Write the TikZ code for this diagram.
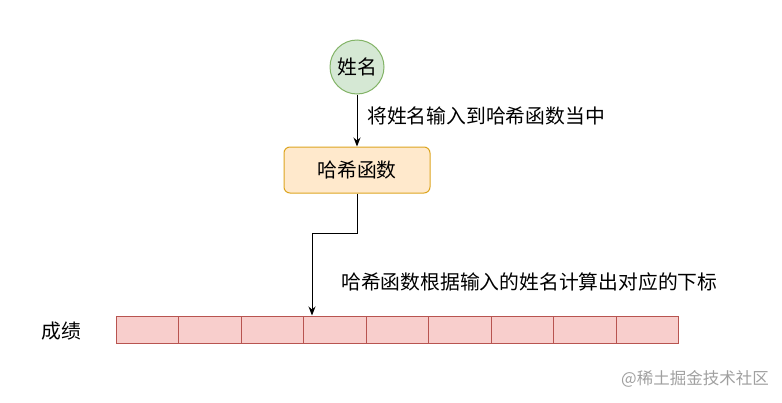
\documentclass[tikz,border=0pt]{standalone}
\usepackage{fontspec}
\setmainfont{Noto Sans CJK SC}
\usetikzlibrary{positioning,arrows.meta}

\definecolor{greenfill}{HTML}{D5E8D4}
\definecolor{greenline}{HTML}{82B366}
\definecolor{orangefill}{HTML}{FFE9CC}
\definecolor{orangeline}{HTML}{DDA520}
\definecolor{redfill}{HTML}{F8CECC}
\definecolor{redline}{HTML}{B85450}
\definecolor{markgray}{HTML}{A0A0A0}

\begin{document}
\begin{tikzpicture}[
    x=1pt, y=-1pt,
    txt/.style={font=\fontsize{19.8}{23}\selectfont, inner sep=0pt},
    circ/.style={circle, draw=greenline, fill=greenfill, line width=1pt, minimum size=54pt, inner sep=0pt, txt},
    box/.style={rectangle, rounded corners=6pt, draw=orangeline, fill=orangefill, line width=1pt, minimum width=146pt, minimum height=46pt, txt},
    cell/.style={rectangle, draw=redline, fill=redfill, line width=1pt, minimum width=62.5pt, minimum height=27pt, inner sep=0pt},
    arrow/.style={-{Stealth[length=9pt, width=7pt]}, line width=1pt}
]
    \useasboundingbox (0,0) rectangle (782,402);

    % Input and hash function
    \node[circ] (name) at (357,67) {姓名};
    \node[box] (hash) at (357,170) {哈希函数};

    % Score array
    \foreach \i in {0,...,8}
        \node[cell] (c\i) at (147.25+62.5*\i,329.5) {};
    \node[txt] (score) at (61,331) {成绩};

    % Arrows
    \draw[arrow] (name) -- (hash);
    \coordinate (bend) at (312,233);
    \draw[arrow] (hash.south) |- (bend) -- (bend |- c3.north);

    % Labels
    \node[txt, anchor=west] (step1) at (367,116) {将姓名输入到哈希函数当中};
    \node[txt, anchor=west] (step2) at (341,282) {哈希函数根据输入的姓名计算出对应的下标};

    % Watermark
    \node[font=\fontsize{16.5}{20}\selectfont, text=markgray, inner sep=0pt] (mark) at (695,379) {@稀土掘金技术社区};
\end{tikzpicture}
\end{document}
